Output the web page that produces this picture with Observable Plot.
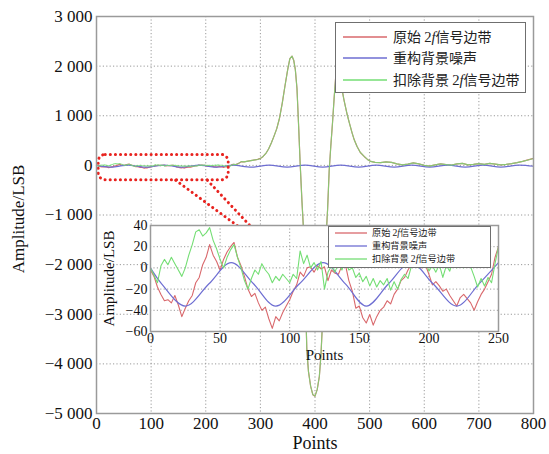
<!DOCTYPE html>
<html>
<head>
<meta charset="utf-8">
<script src="https://cdn.jsdelivr.net/npm/d3@7"></script>
<script src="https://cdn.jsdelivr.net/npm/@observablehq/plot@0.6"></script>
<style>
  html, body { margin: 0; padding: 0; background: white; }
  #wrap { position: relative; width: 549px; height: 454px; overflow: hidden; background: white; }
  #wrap > svg, #wrap > div { position: absolute; }
  #wrap > svg.chart { font-family: "Liberation Serif", "Times New Roman", Times, serif !important; }
</style>
</head>
<body>
<div id="wrap"></div>
<script>
// ---------- data ----------
const xTicks = [0, 100, 200, 300, 400, 500, 600, 700, 800];
const yTicks = [-5000, -4000, -3000, -2000, -1000, 0, 1000, 2000, 3000];
const insetXTicks = [0, 50, 100, 150, 200, 250];
const insetYTicks = [-60, -40, -20, 0, 20, 40];

const seriesNames = ["原始 2f信号边带", "重构背景噪声", "扣除背景 2f信号边带"];
const seriesColors = ["#d9686c", "#6e6ed2", "#74de74"];

// samples of the first 250 points (step 2.5)
const insetStep = 2.5;
const insetRed = [
  -2,-8,-18,-25,-31,-30,-33,-26,-35,-46,
  -38,-31,-26,-14,-9,3,10,22,12,6,
  -2,8,15,20,24,10,2,-8,-20,-27,
  -24,-33,-40,-37,-48,-57,-46,-50,-42,-36,
  -30,-22,-16,-4,-8,0,1,-4,2,-1,
  1,-12,-2,-5,-6,2,3,-12,-22,-38,
  -36,-47,-52,-44,-54,-46,-40,-37,-31,-34,
  -25,-20,-12,-9,-2,4,1,6,0,3,
  -6,-16,-13,-17,-22,-20,-26,-31,-36,-28,
  -25,-29,-33,-40,-32,-25,-20,-13,-6,10,
  20
];
const insetGreen = [
  0,-7,-14,2,8,3,10,4,-2,-8,
  0,12,22,34,36,30,33,38,26,18,
  8,0,10,17,22,10,0,-12,-20,-10,
  -2,-6,4,-2,-6,-14,-8,-12,-6,-10,
  -14,-6,-10,16,4,12,0,5,-2,6,
  -20,-4,2,-4,4,-2,8,-2,0,-9,
  -5,-13,-8,-17,-10,-18,-12,-16,-10,-21,
  -13,-20,-11,-6,-10,2,5,0,5,7,
  -3,2,-4,3,-9,2,-3,8,0,10,
  0,3,1,-8,-18,-10,-17,-9,-14,4,
  20
];
const blueX = [0, 8, 25, 42, 58, 74, 90, 107, 124, 140, 155, 171, 187, 203, 220, 236, 250];
const blueY = [0, -15, -36, -15, 5, -15, -36, -15, 5, -15, -36, -15, 5, -15, -36, -15, 5];
const blueTailX = [284, 316, 349, 382, 414, 447, 480, 512, 545, 577, 610, 643, 675, 708, 740, 773, 800];
const blueTailY = [-36, 5, -36, 5, -36, 5, -36, 5, -36, 5, -36, 5, -36, 5, -36, 5, -18];

// rest of the main signal (points > 250), red and green coincide there
const peakX = [255,260,265,270,275,280,285,290,295,300,305,310,315,320,325,330,335,340,345,350,
  354,358,361,364,367,370,373,376,379,382,385,388,392,396,400,404,408,411,414,417,
  420,423,426,429,432,435,438,441,444,447,450,453,456,459,463,468,472,477,483,490,
  496,502,510,520,530,540,550,560,570,580,590,600,610,620,630,640,650,660,670,680,
  690,700,710,720,730,740,750,760,770,780,790,800];
const peakAmp = [15,40,75,70,80,90,100,110,120,140,180,240,330,450,590,740,950,1250,1600,1930,
  2150,2200,2120,1930,1550,800,0,-700,-1300,-2400,-3700,-4150,-4450,-4620,-4650,-4520,-4250,-3800,-3100,-2300,
  -1500,-900,-100,400,850,1350,1800,2000,1900,1700,1500,1320,1170,1020,850,650,510,380,260,180,
  120,80,60,55,70,60,30,10,25,50,30,0,-15,10,30,15,5,30,40,10,
  20,35,20,40,25,10,20,35,55,80,110,140];

// zoom annotation (data coordinates of the main chart)
const zoomBox = [{x1: 4, x2: 242, y1: 210, y2: -300}];
const zoomLinks = [
  {x1: 145, y1: -300, x2: 262, y2: -1250},
  {x1: 203, y1: -300, x2: 284, y2: -1250}
];

// ---------- build tables ----------
const insetX = insetRed.map((_, i) => i * insetStep);
const insetRows = insetX.map((x, i) => ({x, red: insetRed[i], green: insetGreen[i]}));
const mainRows = insetRows.concat(peakX.map((x, i) => ({x, red: peakAmp[i], green: peakAmp[i]})));
const blueInset = blueX.map((x, i) => ({x, y: blueY[i]}));
const blueMain = blueInset.concat(blueTailX.map((x, i) => ({x, y: blueTailY[i]})));

const fmt = v => (v < 0 ? "\u2212" : "") + d3.format(",")(Math.abs(v)).replace(/,/g, " ");
const gridStyle = {stroke: "#9a9a9a", strokeOpacity: 1, strokeDasharray: "1.2,2.2", strokeWidth: 1};
const serif = "Liberation Serif, Times New Roman, Times, serif";

const wrap = document.getElementById("wrap");

// ---------- main chart ----------
const main = Plot.plot({
  width: 549, height: 454,
  marginLeft: 96, marginRight: 16, marginTop: 16, marginBottom: 41,
  style: {fontFamily: serif, fontSize: "17px", background: "transparent", color: "#111"},
  x: {domain: [0, 800]},
  y: {domain: [-5000, 3000]},
  marks: [
    Plot.gridX(xTicks, gridStyle),
    Plot.gridY(yTicks, gridStyle),
    Plot.line(mainRows, {x: "x", y: "red", stroke: seriesColors[0], strokeWidth: 1.2}),
    Plot.line(blueMain, {x: "x", y: "y", stroke: seriesColors[1], strokeWidth: 1.2, curve: "catmull-rom"}),
    Plot.line(mainRows, {x: "x", y: "green", stroke: seriesColors[2], strokeWidth: 1.1, strokeOpacity: 0.8}),
    Plot.rect(zoomBox, {x1: "x1", x2: "x2", y1: "y1", y2: "y2", rx: 7, fill: "none", stroke: "#e8231f",
      strokeWidth: 3, strokeDasharray: "0.1,5", strokeLinecap: "round"}),
    Plot.link(zoomLinks, {x1: "x1", y1: "y1", x2: "x2", y2: "y2", stroke: "#e8231f",
      strokeWidth: 3, strokeDasharray: "0.1,5", strokeLinecap: "round"}),
    Plot.frame({stroke: "#9a9a9a", strokeWidth: 1.5}),
    Plot.axisX(xTicks, {tickSize: 0, tickPadding: 3, label: null, fontSize: 17}),
    Plot.axisY(yTicks, {tickSize: 0, tickPadding: 4, label: null, tickFormat: fmt, fontSize: 17}),
    Plot.text(["Points"], {frameAnchor: "bottom", lineAnchor: "middle", textAnchor: "middle", dy: 30, fontSize: 18, text: d => d}),
    Plot.text(["Amplitude/LSB"], {frameAnchor: "left", lineAnchor: "middle", textAnchor: "middle", dx: -78, dy: 4, rotate: -90, fontSize: 17, text: d => d})
  ]
});
main.classList.add("chart");
main.style.left = "0px"; main.style.top = "0px";
wrap.appendChild(main);

// ---------- inset chart ----------
const inset = Plot.plot({
  width: 410, height: 148,
  marginLeft: 50, marginRight: 12, marginTop: 6, marginBottom: 36,
  style: {fontFamily: serif, fontSize: "14px", background: "transparent", color: "#111", overflow: "visible"},
  x: {domain: [0, 250]},
  y: {domain: [-60, 40]},
  marks: [
    Plot.frame({fill: "white", stroke: "none"}),
    Plot.gridX(insetXTicks, gridStyle),
    Plot.gridY(insetYTicks, gridStyle),
    Plot.line(insetRows, {x: "x", y: "red", stroke: seriesColors[0], strokeWidth: 1.1}),
    Plot.line(blueInset, {x: "x", y: "y", stroke: seriesColors[1], strokeWidth: 1.2, curve: "catmull-rom"}),
    Plot.line(insetRows, {x: "x", y: "green", stroke: seriesColors[2], strokeWidth: 1.1}),
    Plot.frame({stroke: "#9a9a9a", strokeWidth: 1.5}),
    Plot.axisX(insetXTicks, {tickSize: 0, tickPadding: 2, label: null, fontSize: 14}),
    Plot.axisY(insetYTicks, {tickSize: 0, tickPadding: 3, label: null, tickFormat: fmt, fontSize: 14}),
    Plot.text(["Points"], {frameAnchor: "bottom", lineAnchor: "middle", textAnchor: "middle", dy: 24, fontSize: 15, text: d => d}),
    Plot.text(["Amplitude/LSB"], {frameAnchor: "left", lineAnchor: "middle", textAnchor: "middle", dx: -41, rotate: -90, fontSize: 15, text: d => d})
  ]
});
inset.classList.add("chart");
inset.style.left = "100px"; inset.style.top = "219px";
wrap.appendChild(inset);

// ---------- legends ----------
function legend({left, top, w, h, rows, lx1, lx2, tx, fs}) {
  const pad = 6;
  const svg = d3.create("svg").attr("class", "legend")
    .attr("width", w + 2 * pad).attr("height", h + 2 * pad)
    .style("left", (left - pad) + "px").style("top", (top - pad) + "px")
    .style("position", "absolute").style("overflow", "visible");
  const g = svg.append("g").attr("transform", `translate(${pad},${pad})`);
  g.append("rect").attr("x", 0.5).attr("y", 0.5).attr("width", w).attr("height", h)
    .attr("fill", "white").attr("stroke", "#6f6f6f").attr("stroke-width", 1);
  seriesNames.forEach((name, i) => {
    const y = rows[i];
    g.append("line").attr("x1", lx1).attr("x2", lx2).attr("y1", y).attr("y2", y)
      .attr("stroke", seriesColors[i]).attr("stroke-width", 1.3);
    const t = g.append("text").attr("x", tx).attr("y", y).attr("dy", "0.36em")
      .attr("font-size", fs).attr("fill", "#222")
      .attr("font-family", "Noto Sans CJK SC, sans-serif");
    if (name.includes("2f")) {
      const [pre, post] = name.split("2f");
      t.append("tspan").text(pre);
      t.append("tspan").attr("font-family", serif).attr("font-size", fs * 1.05).text("2");
      t.append("tspan").attr("font-family", serif).attr("font-style", "italic").attr("font-size", fs * 1.05).text("f");
      t.append("tspan").text(post);
    } else {
      t.text(name);
    }
  });
  return svg.node();
}
wrap.appendChild(legend({left: 335, top: 22, w: 190, h: 70, rows: [15, 36, 58], lx1: 8, lx2: 52, tx: 58, fs: 14}));
wrap.appendChild(legend({left: 328, top: 226, w: 162, h: 41, rows: [7, 20, 33], lx1: 7, lx2: 39, tx: 44, fs: 9.2}));
</script>
</body>
</html>
